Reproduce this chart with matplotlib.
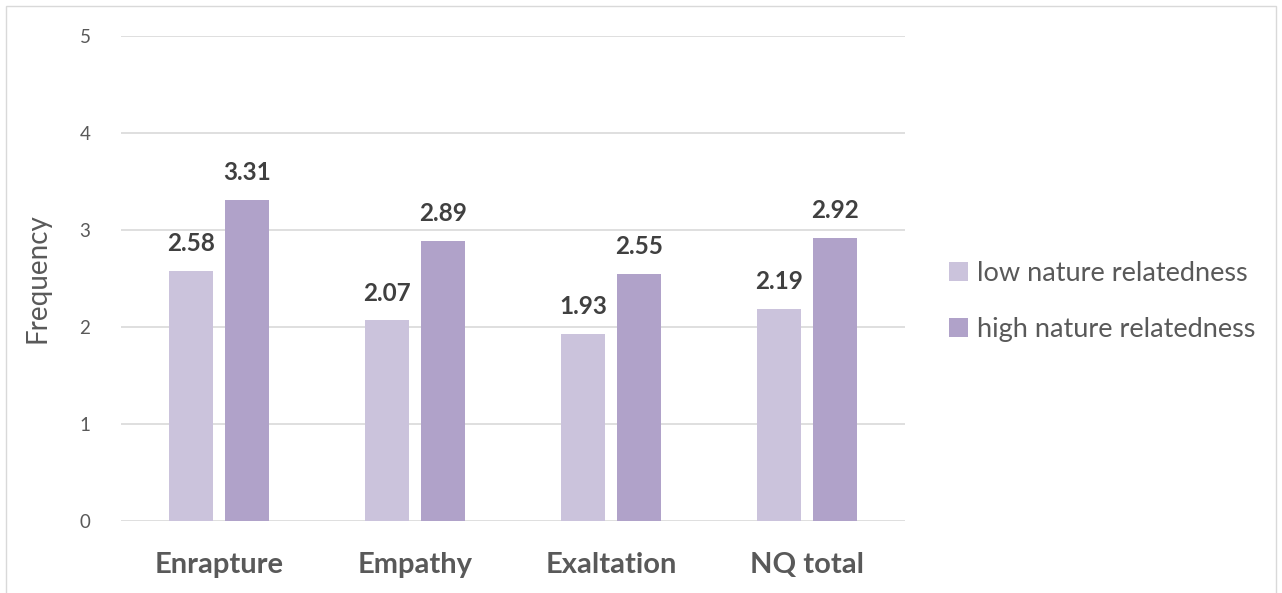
import matplotlib.pyplot as plt
import numpy as np
from matplotlib.patches import Rectangle

categories = ['Enrapture', 'Empathy', 'Exaltation', 'NQ total']
low_vals = [2.58, 2.07, 1.93, 2.19]
high_vals = [3.31, 2.89, 2.55, 2.92]
series_names = ['low nature relatedness', 'high nature relatedness']
yticks = [0, 1, 2, 3, 4, 5]

low_color = '#CBC3DC'
high_color = '#B0A2C9'

plt.rcParams['font.family'] = ['Lato', 'DejaVu Sans']

fig = plt.figure(figsize=(12.82, 5.93), dpi=100)
ax = fig.add_axes([121 / 1282, 1 - 521 / 593, 784 / 1282, 485 / 593])

# outer chart border
fig.patches.append(Rectangle((6 / 1282, -0.1), 1270 / 1282, 1.1 - 6 / 593,
                             transform=fig.transFigure, fill=False,
                             edgecolor='#D9D9D9', linewidth=1))

x = np.arange(len(categories))
w = 0.225
off = 0.143
b1 = ax.bar(x - off, low_vals, w, color=low_color, label=series_names[0], zorder=3)
b2 = ax.bar(x + off, high_vals, w, color=high_color, label=series_names[1], zorder=3)

for bars, vals in [(b1, low_vals), (b2, high_vals)]:
    for r, v in zip(bars, vals):
        ax.text(r.get_x() + r.get_width() / 2, v + 0.16, '%.2f' % v,
                ha='center', va='bottom', fontsize=17.5, fontweight='bold',
                color='#404040')

ax.set_xlim(-0.5, len(categories) - 0.5)
ax.set_ylim(0, 5)
ax.set_yticks(yticks)
ax.set_yticklabels([str(t) for t in yticks], fontsize=13.5, color='#595959')
ax.set_xticks(x)
ax.set_xticklabels(categories, fontsize=21, fontweight='bold', color='#595959')
ax.tick_params(axis='both', length=0)
ax.tick_params(axis='y', pad=22)
ax.tick_params(axis='x', pad=22)
ax.grid(axis='y', color='#D9D9D9', linewidth=1.2, zorder=0)
for s in ax.spines.values():
    s.set_visible(False)

ax.set_ylabel('Frequency', fontsize=20, color='#595959', labelpad=21)

ax.legend(loc='center left', bbox_to_anchor=(1.025, 0.452), frameon=False,
          fontsize=19.5, labelcolor='#595959', handlelength=0.7,
          handleheight=0.7, handletextpad=0.35, labelspacing=1.15)

fig.savefig('out.png', dpi=100)
